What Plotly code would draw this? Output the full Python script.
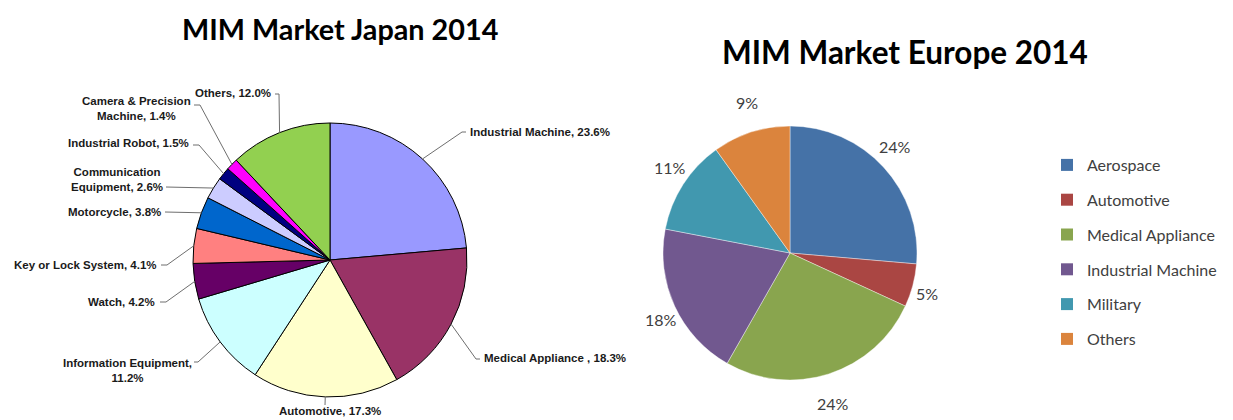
import math
import plotly.graph_objects as go

W, H = 1233, 420

# ---------------- data ----------------
jp_labels = ["Industrial Machine", "Medical Appliance ", "Automotive", "Information Equipment",
             "Watch", "Key or Lock System", "Motorcycle", "Communication Equipment",
             "Industrial Robot", "Camera & Precision Machine", "Others"]
jp_values = [23.6, 18.3, 17.3, 11.2, 4.2, 4.1, 3.8, 2.6, 1.5, 1.4, 12.0]
jp_colors = ["#9999FF", "#993366", "#FFFFCC", "#CCFFFF", "#660066", "#FF8080",
             "#0066CC", "#CCCCFF", "#000080", "#FF00FF", "#92D050"]

eu_labels = ["Aerospace", "Automotive", "Medical Appliance", "Industrial Machine", "Military", "Others"]
eu_values = [24, 5, 24, 18, 11, 9]
eu_colors = ["#4572A7", "#AA4643", "#89A54E", "#71588F", "#4198AF", "#DB843D"]

# ---------------- helpers ----------------
def px(x):
    return x / W

def py(y):
    return 1 - y / H

# Japan pie geometry (pixels)
JCX, JCY, JR = 330, 260, 137
# Europe pie geometry (pixels)
ECX, ECY, ER = 790, 253, 127

fig = go.Figure()

fig.add_trace(go.Pie(
    labels=jp_labels, values=jp_values, sort=False, direction="clockwise", rotation=0,
    marker=dict(colors=jp_colors, line=dict(color="#000000", width=1)),
    textinfo="none", hoverinfo="label+percent", showlegend=False,
    domain=dict(x=[px(JCX - JR), px(JCX + JR)], y=[py(JCY + JR), py(JCY - JR)]),
))

fig.add_trace(go.Pie(
    labels=eu_labels, values=eu_values, sort=False, direction="clockwise", rotation=0,
    marker=dict(colors=eu_colors, line=dict(color="rgba(255,255,255,0.5)", width=0.8)),
    textinfo="none", hoverinfo="label+percent",
    showlegend=False, automargin=False,
    domain=dict(x=[px(ECX - ER), px(ECX + ER)], y=[py(ECY + ER), py(ECY - ER)]),
))

# Europe percentage labels, placed outside the pie along each slice's mid angle
eu_total = sum(eu_values)
cum = 0.0
for v in eu_values:
    theta = 2 * math.pi * (cum + v / 2) / eu_total
    cum += v
    tx = ECX + 142 * math.sin(theta)
    ty = ECY - 158 * math.cos(theta)
    fig.add_annotation(x=px(tx), y=py(ty), xref="paper", yref="paper", showarrow=False,
                       text=f"{v}%", xanchor="center", yanchor="middle",
                       font=dict(family="Lato, Calibri, sans-serif", size=16, color="#404040"))

# legend entries (one group per category for spacing)
for lab, col in zip(eu_labels, eu_colors):
    fig.add_trace(go.Scatter(
        x=[None], y=[None], mode="markers", name=lab, legendgroup=lab,
        marker=dict(symbol="square", size=12, color=col),
    ))

# ---------------- Japan labels with leader lines ----------------
jp_label_pos = [
    ("Industrial Machine, 23.6%", 468, 132, "left", [(462, 132), (466, 132)]),
    ("Medical Appliance , 18.3%", 482, 358, "left", [(476, 359), (480, 359)]),
    ("Automotive, 17.3%", 330, 411, "center", [(325, 405)]),
    ("Information Equipment,<br>11.2%", 127, 370, "center", [(198, 362), (194, 362)]),
    ("Watch, 4.2%", 157, 302, "right", [(166, 302), (160, 302)]),
    ("Key or Lock System, 4.1%", 159, 265, "right", [(167, 265), (161, 265)]),
    ("Motorcycle, 3.8%", 163, 212, "right", [(165, 212)]),
    ("Communication<br>Equipment, 2.6%", 117, 179, "center", [(166, 187)]),
    ("Industrial Robot, 1.5%", 191, 143, "right", [(199, 145), (193, 145)]),
    ("Camera & Precision<br>Machine, 1.4%", 136, 109, "center", [(200, 105), (194, 105)]),
    ("Others, 12.0%", 273, 93, "right", [(279, 94), (275, 94)]),
]

total = sum(jp_values)
cum = 0.0
for v, (txt, ax, ay, xa, pts) in zip(jp_values, jp_label_pos):
    theta = 2 * math.pi * (cum + v / 2) / total
    cum += v
    ex = JCX + JR * math.sin(theta)
    ey = JCY - JR * math.cos(theta)
    path = f"M {px(ex)},{py(ey)}" + "".join(f" L {px(x)},{py(y)}" for x, y in pts)
    fig.add_shape(type="path", path=path, xref="paper", yref="paper",
                  line=dict(color="#6e6e6e", width=1))
    bold = "<br>".join(f"<b>{part}</b>" for part in txt.split("<br>"))
    fig.add_annotation(
        x=px(ax), y=py(ay), xref="paper", yref="paper", text=bold, showarrow=False,
        xanchor=xa, yanchor="middle", align="center",
        font=dict(family="Liberation Sans, Arial, sans-serif", size=11.5, color="#1a1a1a"),
    )

# ---------------- titles ----------------
fig.add_annotation(x=px(340), y=py(29), xref="paper", yref="paper", showarrow=False,
                   text="<b>MIM Market Japan 2014</b>", xanchor="center", yanchor="middle",
                   font=dict(family="Lato, Calibri, sans-serif", size=28.8, color="#000000"))
fig.add_annotation(x=px(905), y=py(52), xref="paper", yref="paper", showarrow=False,
                   text="<b>MIM Market Europe 2014</b>", xanchor="center", yanchor="middle",
                   font=dict(family="Lato, Calibri, sans-serif", size=31.5, color="#000000"))

fig.update_layout(
    width=W, height=H, margin=dict(l=0, r=0, t=0, b=0),
    paper_bgcolor="white", plot_bgcolor="white",
    xaxis=dict(visible=False), yaxis=dict(visible=False),
    showlegend=True,
    legend=dict(x=px(1047), y=py(148), xanchor="left", yanchor="top",
                tracegroupgap=11, bgcolor="rgba(0,0,0,0)",
                font=dict(family="Lato, Calibri, sans-serif", size=16, color="#404040")),
)

fig.write_html("out.html", config={"displayModeBar": False},
               post_script="document.body.style.margin='0';")
